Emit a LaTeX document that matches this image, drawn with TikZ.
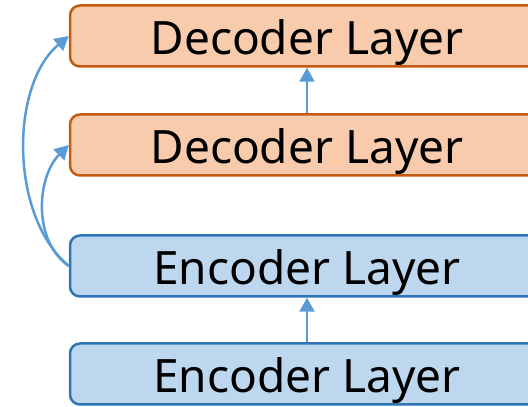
\documentclass[tikz,border=0pt]{standalone}
\usepackage{fontspec}
\setmainfont{Noto Sans}
\usepackage{tikz}
\usetikzlibrary{arrows.meta}
\definecolor{decfill}{HTML}{F8CBAD}
\definecolor{decline}{HTML}{C55A11}
\definecolor{encfill}{HTML}{BDD7EE}
\definecolor{encline}{HTML}{2E75B6}
\definecolor{linkblue}{HTML}{5B9BD5}

\begin{document}
\begin{tikzpicture}[x=1pt,y=1pt,
  layer/.style={rectangle,rounded corners=10pt,line width=2.5pt,minimum width=474pt,minimum height=61pt,inner sep=0pt,text height=38pt,text depth=0pt,font=\fontsize{46}{50}\selectfont},
  declayer/.style={layer,draw=decline,fill=decfill},
  enclayer/.style={layer,draw=encline,fill=encfill},
  link/.style={draw=linkblue,line width=2.5pt,-{Triangle[length=14pt,width=15pt]}}]
\useasboundingbox (0,0) rectangle (528,407);
\clip (0,0) rectangle (528,407);
\node[declayer] (dec1) at (307,371) {Decoder Layer};
\node[declayer] (dec2) at (307,262) {Decoder Layer};
\node[enclayer] (enc2) at (307,141) {Encoder Layer};
\node[enclayer] (enc1) at (307,33) {Encoder Layer};
\draw[link] (enc1.north) -- (enc2.south);
\draw[link] (dec2.north) -- (dec1.south);
\draw[link] (enc2.west) to[out=145,in=225,looseness=0.95] (dec2.west);
\draw[link] (enc2.west) to[out=140,in=220,looseness=0.86] (dec1.west);
\end{tikzpicture}
\end{document}
